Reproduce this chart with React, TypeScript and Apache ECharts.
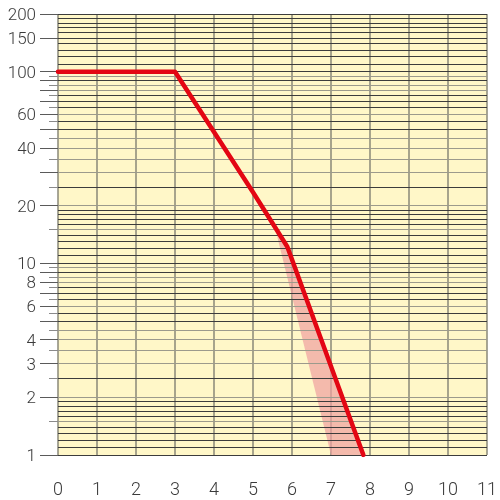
import { useEffect, useRef } from "react";
import * as echarts from "echarts";

// x axis: integer steps 0..11
const xTickValues = [0, 1, 2, 3, 4, 5, 6, 7, 8, 9, 10, 11];

// red curve (x, y on log scale)
const curveX = [0, 3, 5, 5.88, 7.83];
const curveY = [100, 100, 23.5, 12.2, 1];

// pink tolerance band (polygon corners)
const bandX = [5.57, 5.88, 7.83, 7.0];
const bandY = [15.2, 12.2, 1, 1];

// y labels
const yLabelValues = [1, 2, 3, 4, 6, 8, 10, 20, 40, 60, 100, 150, 200];

// left ticks: long ones and short ones
const longTickValues = [1, 2, 3, 4, 5, 6, 7, 8, 9, 10, 20, 30, 40, 50, 60, 70, 80, 90, 100, 150, 200];
const shortTickValues = [1.5, 2.5, 3.5, 4.5, 5.5, 6.5, 7.5, 8.5, 9.5, 15, 25, 35, 45, 55, 65, 75, 85, 95];

// horizontal grid lines of the log paper
const darkLines = [
  1, 1.1, 1.2, 1.3, 1.4, 1.6, 1.7, 1.8, 1.9, 2.5, 5, 5.5, 6.5, 7, 7.5, 9,
  10, 11, 12, 13, 14, 16, 17, 18, 19, 25, 50, 55, 65, 70, 75, 90,
  100, 110, 120, 130, 140, 150, 160, 170, 180, 190, 200,
];
const grayLines = [
  1.5, 2, 3, 3.5, 4, 4.5, 6, 8, 8.5, 9.5,
  15, 20, 30, 35, 40, 45, 60, 80, 85, 95,
];

const FONT = "Roboto, 'Liberation Sans', sans-serif";
const TEXT = "#3a3a3a";

export default function App() {
  const ref = useRef<HTMLDivElement>(null);

  useEffect(() => {
    if (!ref.current) return;
    const chart = echarts.init(ref.current, undefined, { renderer: "svg" });

    const logAxisBase = {
      type: "log" as const,
      logBase: 10,
      min: 1,
      max: 200,
      position: "left" as const,
      axisLine: { show: false },
      splitLine: { show: false },
      minorTick: { show: false },
    };

    chart.setOption({
      animation: false,
      grid: {
        left: 58,
        right: 10,
        top: 14,
        bottom: 45,
        show: true,
        backgroundColor: "#fff7c8",
        borderWidth: 0,
      },
      xAxis: {
        type: "value",
        min: 0,
        max: 11,
        interval: 1,
        axisLine: { show: false },
        axisTick: { show: false },
        axisLabel: {
          customValues: xTickValues,
          margin: 24,
          fontSize: 18,
          fontFamily: FONT,
          fontWeight: 300,
          color: TEXT,
        },
        splitLine: { show: true, lineStyle: { color: "#8a8878", width: 1.5 } },
      },
      yAxis: [
        {
          ...logAxisBase,
          axisTick: {
            show: true,
            inside: false,
            length: 18,
            customValues: longTickValues,
            lineStyle: { color: "#5a5a5a", width: 1 },
          },
          axisLabel: {
            customValues: yLabelValues,
            margin: 22,
            fontSize: 17,
            lineHeight: 17,
            fontFamily: FONT,
            fontWeight: 300,
            color: TEXT,
            formatter: (v: number) => String(v),
          },
        },
        {
          ...logAxisBase,
          axisTick: {
            show: true,
            inside: false,
            length: 9,
            customValues: shortTickValues,
            lineStyle: { color: "#8a8a8a", width: 1 },
          },
          axisLabel: { show: false },
        },
      ],
      series: [
        {
          type: "line",
          yAxisIndex: 0,
          data: [],
          silent: true,
          z: 1,
          markLine: {
            silent: true,
            symbol: ["none", "none"],
            label: { show: false },
            animation: false,
            data: [
              ...darkLines.map((v) => ({ yAxis: v, lineStyle: { color: "#3c3c3c", width: 1, type: "solid" } })),
              ...grayLines.map((v) => ({ yAxis: v, lineStyle: { color: "#9c9a8c", width: 1.2, type: "solid" } })),
            ],
          },
        },
        {
          type: "custom",
          yAxisIndex: 0,
          z: 3,
          silent: true,
          data: [[bandX[0], bandY[0]]],
          renderItem: (_params: unknown, api: any) => {
            const points = bandX.map((x, i) => api.coord([x, bandY[i]]));
            return {
              type: "polygon",
              shape: { points },
              style: { fill: "#f0a0a0", opacity: 0.7 },
            };
          },
        },
        {
          type: "line",
          yAxisIndex: 0,
          z: 5,
          silent: true,
          symbol: "none",
          data: curveX.map((x, i) => [x, curveY[i]]),
          lineStyle: { color: "#e30613", width: 4.5, cap: "round", join: "round" },
        },
      ],
    });

    return () => chart.dispose();
  }, []);

  return <div ref={ref} style={{ position: "fixed", left: 0, top: 0, width: 500, height: 500 }} />;
}
